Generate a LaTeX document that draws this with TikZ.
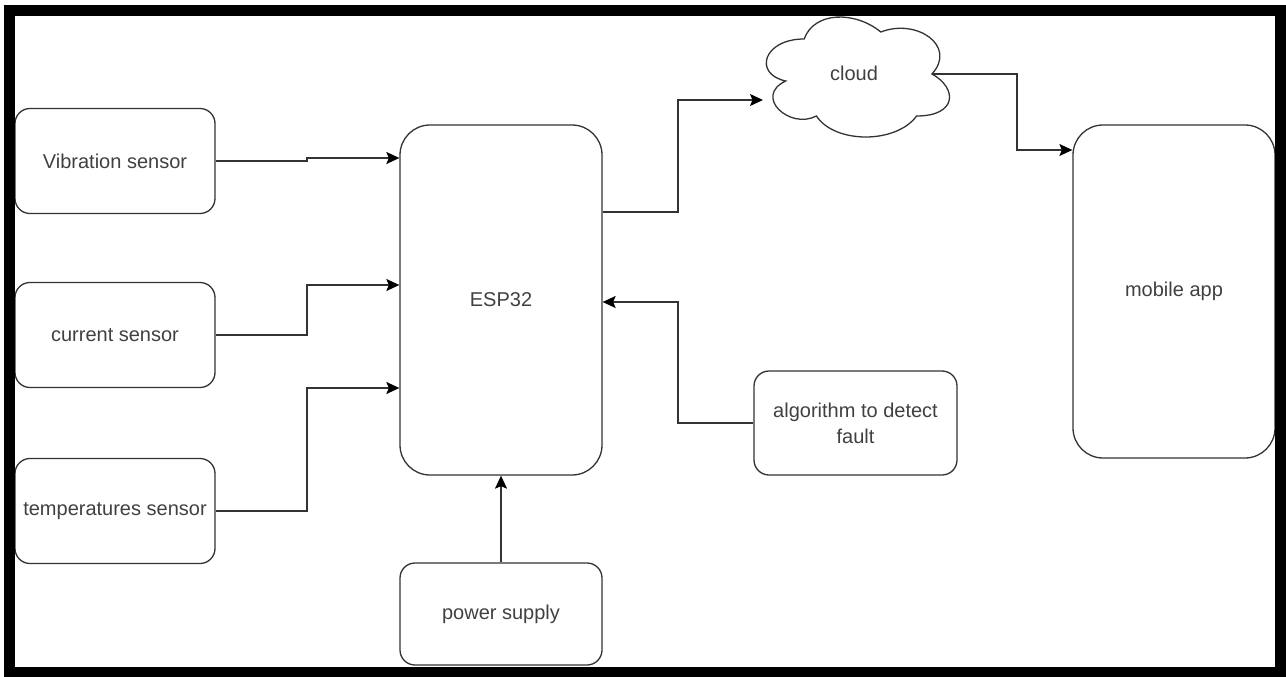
\documentclass[tikz,border=0pt]{standalone}
\usepackage{fontspec}
\setsansfont{Liberation Sans}
\usetikzlibrary{arrows.meta}

\begin{document}
\begin{tikzpicture}[x=1pt, y=-1pt, font=\sffamily\fontsize{20}{26}\selectfont,
  box/.style={draw=black!80, line width=1.3pt, rounded corners=15pt,
    align=center, text=black!75, inner sep=2pt},
  bigbox/.style={box, rounded corners=30pt},
  link/.style={draw=black!80, line width=1.4pt,
    -{Stealth[length=13pt, width=12pt, inset=2.5pt, black]}}]
\useasboundingbox (0,0) rectangle (1286,677);

% sensors
\node [box, minimum width=200, minimum height=105] (vib) at (115,161) {Vibration sensor};
\node [box, minimum width=200, minimum height=105] (cur) at (115,335) {current sensor};
\node [box, minimum width=200, minimum height=105] (temp) at (115,511) {temperatures sensor};

\node [bigbox, minimum width=202, minimum height=350] (esp) at (501,300) {ESP32};
\node [box, minimum width=202, minimum height=102] (power) at (501,614) {power supply};
\node [box, minimum width=203, minimum height=104] (algo) at (855.5,423) {algorithm to detect\\fault};
\node [bigbox, minimum width=202, minimum height=333] (mobile) at (1174,291.5) {mobile app};

% cloud
\begin{scope}[shift={(753,4)}, x=204.5pt, y=-140pt]
\draw [black!80, line width=1.3pt] (0.25,0.25)
  .. controls (0.05,0.25) and (0,0.5) .. (0.16,0.55)
  .. controls (0,0.66) and (0.18,0.9) .. (0.31,0.8)
  .. controls (0.4,1) and (0.7,1) .. (0.8,0.8)
  .. controls (1,0.8) and (1,0.6) .. (0.875,0.5)
  .. controls (1,0.3) and (0.8,0.1) .. (0.625,0.2)
  .. controls (0.5,0.05) and (0.3,0.05) .. (0.25,0.25) -- cycle;
\coordinate (cloudout) at (0.875,0.5);
\end{scope}
\node [text=black!75] (cloud) at (854,73) {cloud};
\coordinate (cloudin) at (763,100);

% links
\draw [link] (vib.east) -- (307,161) -- (307,158) -- (esp.west |- 0,158);
\draw [link] (cur.east) -| (307,285) -- (esp.west |- 0,285);
\draw [link] (temp.east) -| (307,388) -- (esp.west |- 0,388);
\draw [link] (power.north) -- (esp.south);
\draw [link] (algo.west) -| (678,302) -- (esp.east |- 0,302);
\draw [link] (esp.east |- 0,212) -| (678,100) -- (cloudin);
\draw [link] (cloudout) -| (1017,150) -- (mobile.west |- 0,150);

% frame
\draw [line width=11pt] (9.5,11) rectangle (1280.5,672);
\end{tikzpicture}
\end{document}
